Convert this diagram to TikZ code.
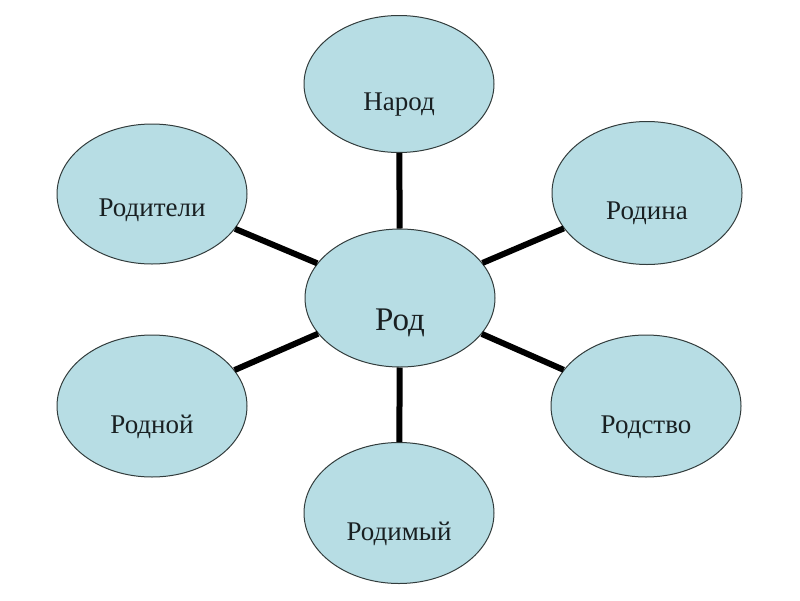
\documentclass[tikz,border=0pt]{standalone}
\usepackage{fontspec}
\setmainfont{Liberation Serif}
\usetikzlibrary{shapes.geometric}
\definecolor{bubblefill}{RGB}{183,221,228}
\definecolor{bubbleline}{RGB}{50,60,60}
\definecolor{bubbletext}{RGB}{25,32,34}
\tikzset{
  bubble/.style={ellipse, draw=bubbleline, line width=1pt, fill=bubblefill,
    minimum width=190pt, minimum height=140pt, inner sep=0pt,
    text=bubbletext, font=\fontsize{27}{30}\selectfont},
  conn/.style={line width=6pt, draw=black}
}
\newcommand{\lowtext}[2]{\raisebox{-#1}[0pt][0pt]{#2}}
\begin{document}
\begin{tikzpicture}[x=1pt,y=-1pt]
\useasboundingbox (0,0) rectangle (800,600);
\node[bubble, minimum height=138pt] (rod) at (400,298) {\lowtext{32pt}{\fontsize{33}{36}\selectfont Род}};
\node[bubble, minimum height=137pt] (narod) at (399,84) {\lowtext{26pt}{Народ}};
\node[bubble] (roditeli) at (152,194) {\lowtext{22pt}{Родители}};
\node[bubble, minimum height=143pt] (rodina) at (647,193) {\lowtext{26pt}{Родина}};
\node[bubble, minimum height=142pt] (rodnoy) at (152,406) {\lowtext{27pt}{Родной}};
\node[bubble, minimum height=142pt] (rodstvo) at (646,406) {\lowtext{27pt}{Родство}};
\node[bubble, minimum height=141pt] (rodimy) at (399,513) {\lowtext{27pt}{Родимый}};
\draw[conn] (rod) -- (narod);
\draw[conn] (rod) -- (roditeli);
\draw[conn] (rod) -- (rodina);
\draw[conn] (rod) -- (rodnoy);
\draw[conn] (rod) -- (rodstvo);
\draw[conn] (rod) -- (rodimy);
\end{tikzpicture}
\end{document}
